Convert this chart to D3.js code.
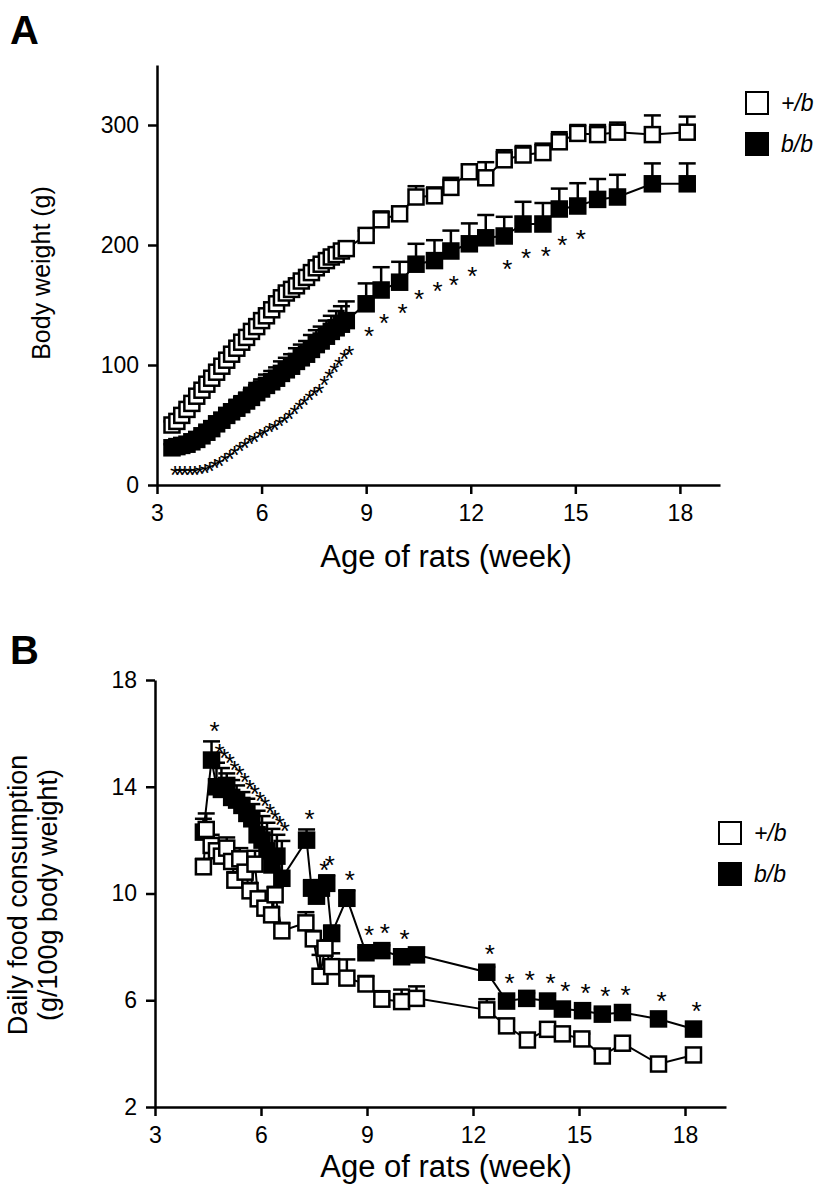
<!DOCTYPE html>
<html><head><meta charset="utf-8">
<script src="https://cdn.jsdelivr.net/npm/d3@7/dist/d3.min.js"></script>
<style>
html,body{margin:0;padding:0;background:#fff;}
svg{display:block;font-family:"Liberation Sans",Arial,sans-serif;}
</style></head>
<body>
<svg id="c" width="822" height="1189"></svg>
<script>
// ---------------- Panel A: body weight ----------------
const weeksA = [3.43,3.57,3.71,3.86,4.00,4.14,4.29,4.43,4.57,4.71,4.86,5.00,5.14,5.29,5.43,5.57,5.71,5.86,6.00,6.14,6.29,6.43,6.57,6.71,6.86,7.00,7.14,7.29,7.43,7.57,7.71,7.86,8.00,8.14,8.29,8.43,
  9.00,9.43,9.96,10.43,10.96,11.43,11.96,12.43,12.96,13.50,14.07,14.54,15.07,15.64,16.21,17.21,18.21];
const hetA = [50,53,58,63,68,74,79,84,89,94,99,104,109,114,119,123,128,132,137,141,146,151,156,160,163,166,170,173,177,181,184,187,190,192,195,197,
  208,221,226,240,241,248,261,256,271,275,277,286,293,292,294,292,294];
const hetErrA = [3,3,3,3,3,3,3,3,3,3,3,3,3,3,3,3,3,3,4,4,4,4,4,4,4,4,4,4,4,4,4,4,4,4,4,4,
  4,7,5,9,7,8,6,13,8,7.5,7.5,8,7,8,8,16,13];
const homA = [31,32,33,34,36,38,41,44,47,51,54,58,61,64,67,70,73,77,80,83,86,89,93,96,99,103,106,109,113,117,120,124,128,131,134,137,
  151,162.5,169,184,187,195,201,206,207.5,217.5,217.5,230,232.5,238,240,251,251];
const homErrA = [3,3,3,3,4,4,4,5,5,5,6,6,6,7,7,7,8,8,8,9,9,9,10,10,10,11,11,11,12,12,12,13,13,14,15,16,
  17,19,17,17,17,17,17,19,16,18.5,17.5,17,19,17,18.5,17,17];
// height (g) at which each significance asterisk sits; null = no asterisk
const starA = [13,13,13,13,13,14,15,17,19,21,24,27,30,33,36,39,41,44,46,49,51,54,57,60,64,68,72,76,79,82,88,94,99,104,110,113,
  129,140,148.6,160,167,172,179,null,185,194,196,205,210,null,null,null,null];
const yTicksA = [0,100,200,300];

// ---------------- Panel B: daily food consumption ----------------
const weeksHetB = [4.37,4.45,4.59,4.74,4.88,5.03,5.17,5.26,5.40,5.55,5.69,5.83,5.92,6.11,6.30,6.40,6.59,7.27,7.48,7.67,7.81,8.00,8.43,8.97,9.42,9.98,10.40,12.39,12.95,13.54,14.11,14.53,15.08,15.66,16.23,17.25,18.24];
const hetB = [11.0,12.4,11.8,11.6,11.4,11.7,11.2,10.5,11.3,10.8,10.1,11.1,9.8,9.45,9.2,9.95,8.6,8.9,8.3,6.9,7.95,7.26,6.83,6.61,6.04,5.95,6.07,5.64,5.04,4.51,4.91,4.74,4.55,3.91,4.39,3.61,3.95];
const hetErrB = [0.3,0.6,0.4,0.3,0.3,0.4,0.4,0.3,0.4,0.4,0.3,0.5,0.3,0.3,0.3,0.3,0.3,0.4,0.3,0.8,0.3,0.5,0.7,0.3,0.3,0.45,0.45,0.4,0.2,0.2,0.2,0.2,0.2,0.2,0.2,0.2,0.2];
const weeksHomB = [4.37,4.60,4.74,4.88,5.03,5.17,5.31,5.46,5.60,5.74,5.89,6.03,6.17,6.31,6.45,6.59,7.29,7.43,7.57,7.71,7.86,8.00,8.43,8.97,9.42,9.98,10.40,12.39,12.95,13.52,14.11,14.53,15.10,15.66,16.23,17.25,18.24];
const homB = [12.3,15.0,14.0,13.9,14.05,13.6,13.5,13.3,13.0,12.8,12.2,12.0,11.6,11.07,11.4,10.57,12.0,10.2,9.9,10.2,10.38,8.5,9.82,7.78,7.86,7.63,7.70,7.05,5.97,6.07,5.97,5.67,5.61,5.48,5.54,5.30,4.92];
const homErrB = [0.5,0.7,0.9,0.8,0.45,0.65,0.55,0.5,0.55,0.55,0.9,0.9,1.05,1.35,0.8,1.4,0.4,0.3,0.3,0.3,0.3,0.3,0.3,0.2,0.2,0.2,0.2,0.2,0.2,0.2,0.2,0.2,0.2,0.2,0.2,0.2,0.2];
const starB = [0,1,1,1,1,1,1,1,1,1,1,1,1,1,1,1,1,0,0,1,1,0,1,1,1,1,0,1,1,1,1,1,1,1,1,1,1];
const yTicksB = [2,6,10,14,18];

const xTicks = [3,6,9,12,15,18];
const legendLabels = ["+/b","b/b"];
const xTitle = "Age of rats (week)";

const svg = d3.select("#c");
const SQ = 15, SW = 2.5, CAP = 17;

function drawPanel(o){
  const g = svg.append("g");
  const ax = g.append("g").attr("transform",`translate(0,${o.y.range()[0]})`)
    .call(d3.axisBottom(o.x).tickValues(xTicks).tickSize(9).tickSizeOuter(0).tickPadding(11).tickFormat(d3.format("d")));
  const ay = g.append("g").attr("transform",`translate(${o.x.range()[0]},0)`)
    .call(d3.axisLeft(o.y).tickValues(o.yTicks).tickSize(9).tickSizeOuter(0).tickPadding(9).tickFormat(d3.format("d")));
  [ax,ay].forEach(a=>{
    a.selectAll("path,line").attr("stroke","#000").attr("stroke-width",2.5);
    a.selectAll("text").attr("fill","#000").attr("font-size",23).attr("font-family","'Liberation Sans',Arial,sans-serif");
  });
  o.series.forEach(s=>{
    const pts = s.w.map((w,i)=>({w, v:s.v[i], e:s.e[i]}));
    g.append("path").datum(pts)
      .attr("d", d3.line().x(d=>o.x(d.w)).y(d=>o.y(d.v)))
      .attr("fill","none").attr("stroke","#000").attr("stroke-width",2);
    const eb = g.append("g").selectAll("g").data(pts).join("g");
    eb.append("line").attr("x1",d=>o.x(d.w)).attr("x2",d=>o.x(d.w))
      .attr("y1",d=>o.y(d.v)).attr("y2",d=>o.y(d.v+d.e))
      .attr("stroke","#000").attr("stroke-width",2.5);
    eb.append("line").attr("x1",d=>o.x(d.w)-CAP/2).attr("x2",d=>o.x(d.w)+CAP/2)
      .attr("y1",d=>o.y(d.v+d.e)).attr("y2",d=>o.y(d.v+d.e))
      .attr("stroke","#000").attr("stroke-width",2.5);
    g.append("g").selectAll("rect").data(pts).join("rect")
      .attr("x",d=>o.x(d.w)-SQ/2).attr("y",d=>o.y(d.v)-SQ/2)
      .attr("width",SQ).attr("height",SQ)
      .attr("fill",s.fill).attr("stroke","#000").attr("stroke-width",SW);
  });
  g.append("g").selectAll("text").data(o.stars).join("text")
    .attr("x",d=>o.x(d.w)+3)
    .attr("y",d=>d.y+15)
    .attr("text-anchor","middle")
    .attr("font-size",26).attr("fill","#000")
    .text("*");
  o.legend.forEach((L,i)=>{
    g.append("rect").attr("x",L.x-11).attr("y",L.y-11).attr("width",22).attr("height",22)
      .attr("fill",i===0?"#fff":"#000").attr("stroke","#000").attr("stroke-width",2);
    g.append("text").attr("x",L.x+24).attr("y",L.y+8).attr("font-size",23).attr("font-style","italic")
      .attr("fill","#000").text(legendLabels[i]);
  });
  g.append("text").attr("x",446).attr("y",o.xTitleY).attr("text-anchor","middle")
    .attr("font-size",31).attr("fill","#000").text(xTitle);
  o.yTitle.forEach((t,i)=>{
    g.append("text").attr("transform",`translate(${o.yTitleX[i]},${o.yTitleC}) rotate(-90)`)
      .attr("text-anchor","middle").attr("dominant-baseline","central")
      .attr("font-size",o.yTitleSize).attr("fill","#000").text(t);
  });
  g.append("text").attr("x",10).attr("y",o.letterY).attr("font-size",40).attr("font-weight","bold")
    .attr("fill","#000").text(o.letter);
}

const xA = d3.scaleLinear().domain([3,19.15]).range([157,720]);
const yA = d3.scaleLinear().domain([0,350]).range([485,65]);
drawPanel({
  x:xA, y:yA, yTicks:yTicksA,
  series:[
    {w:weeksA, v:homA, e:homErrA, fill:"#000"},
    {w:weeksA, v:hetA, e:hetErrA, fill:"#fff"}
  ],
  stars: weeksA.map((w,i)=>({w, s:starA[i]})).filter(d=>d.s!==null).map(d=>({w:d.w, y:yA(d.s)})),
  legend:[{x:757,y:103},{x:757,y:144}],
  xTitleY:567, yTitle:["Body weight (g)"], yTitleX:[41], yTitleC:273, yTitleSize:25,
  letter:"A", letterY:44
});

const xB = d3.scaleLinear().domain([3,19.16]).range([155,726]);
const yB = d3.scaleLinear().domain([2,18]).range([1107,680]);
drawPanel({
  x:xB, y:yB, yTicks:yTicksB,
  series:[
    {w:weeksHomB, v:homB, e:homErrB, fill:"#000"},
    {w:weeksHetB, v:hetB, e:hetErrB, fill:"#fff"}
  ],
  stars: weeksHomB.map((w,i)=>({w, v:homB[i], e:homErrB[i], s:starB[i]})).filter(d=>d.s)
    .map(d=>({w:d.w, y:Math.min(yB(d.v+d.e), yB(d.v)-8)-16})),
  legend:[{x:730,y:833},{x:730,y:874}],
  xTitleY:1177, yTitle:["Daily food consumption","(g/100g body weight)"], yTitleX:[18,48], yTitleC:895, yTitleSize:27,
  letter:"B", letterY:664
});
</script>
</body></html>
